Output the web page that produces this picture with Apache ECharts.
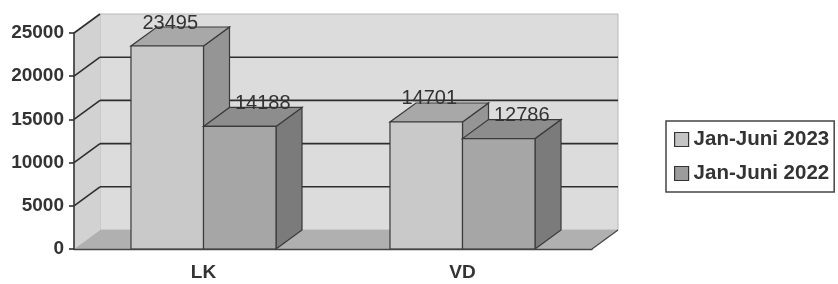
<!DOCTYPE html>
<html>
<head>
<meta charset="utf-8">
<script src="https://cdn.jsdelivr.net/npm/echarts@6/dist/echarts.min.js"></script>
<style>
  html, body { margin: 0; padding: 0; background: #fff; }
  #chart { width: 838px; height: 284px; }
</style>
</head>
<body>
<div id="chart"></div>
<script>
// data
const categories = ['LK', 'VD'];
const seriesNames = ['Jan-Juni 2023', 'Jan-Juni 2022'];
const values2023 = [23495, 14701];
const values2022 = [14188, 12786];
const yTicks = [0, 5000, 10000, 15000, 20000, 25000];

// 3d look
const DX = 26, DY = -19;
const BAR_FRAC = 0.28;
const EDGE = '#3a3a3a';
const FONT = '"Liberation Sans", Arial, sans-serif';

const chart = echarts.init(document.getElementById('chart'));

function poly(points, fill, stroke, lw) {
  return {
    type: 'polygon',
    shape: { points: points },
    style: { fill: fill, stroke: stroke || EDGE, lineWidth: lw == null ? 1.2 : lw }
  };
}

// walls + floor + gridlines, from the y axis scale
function renderWalls(params, api) {
  const cs = params.coordSys;
  const x0 = cs.x, x1 = cs.x + cs.width;
  const yb = cs.y + cs.height, yt = cs.y;
  const kids = [
    poly([[x0 + DX, yt + DY], [x1 + DX, yt + DY], [x1 + DX, yb + DY], [x0 + DX, yb + DY]], '#dcdcdc', '#b8b8b8', 1),
    poly([[x0, yb], [x0, yt], [x0 + DX, yt + DY], [x0 + DX, yb + DY]], '#d2d2d2', 'none', 0),
    poly([[x0, yb], [x1, yb], [x1 + DX, yb + DY], [x0 + DX, yb + DY]], '#b0b0b0', 'none', 0),
    { type: 'line', shape: { x1: x1, y1: yb, x2: x1 + DX, y2: yb + DY }, style: { stroke: '#444', lineWidth: 1.2 } }
  ];
  const max = yTicks[yTicks.length - 1];
  yTicks.forEach(function (v) {
    if (v === 0) return;
    const y = api.coord([0, v])[1];
    kids.push({ type: 'line', shape: { x1: x0, y1: y, x2: x0 + DX, y2: y + DY }, style: { stroke: '#2e2e2e', lineWidth: 1.6 } });
    if (v < max) {
      kids.push({ type: 'line', shape: { x1: x0 + DX, y1: y + DY, x2: x1 + DX, y2: y + DY }, style: { stroke: '#2e2e2e', lineWidth: 1.6 } });
    }
  });
  return { type: 'group', children: kids };
}

function makeBar(side, colors, labelDx) {
  return function (params, api) {
    const cat = api.value(0), v = api.value(1);
    const top = api.coord([cat, v]);
    const base = api.coord([cat, 0]);
    const bw = api.size([1, 0])[0] * BAR_FRAC;
    const xl = side < 0 ? top[0] - bw : top[0];
    const xr = xl + bw;
    const yt = top[1], yb = base[1];
    return {
      type: 'group',
      children: [
        poly([[xr, yb], [xr + DX, yb + DY], [xr + DX, yt + DY], [xr, yt]], colors[2]),
        poly([[xl, yt], [xr, yt], [xr + DX, yt + DY], [xl + DX, yt + DY]], colors[1]),
        poly([[xl, yb], [xr, yb], [xr, yt], [xl, yt]], colors[0]),
        {
          type: 'text',
          style: {
            x: (xl + xr) / 2 + labelDx, y: yt - 23,
            text: String(v), align: 'center', verticalAlign: 'middle',
            fill: '#333', font: '20px ' + FONT
          }
        }
      ]
    };
  };
}

let option = {
  backgroundColor: '#fff',
  animation: false,
  grid: { left: 74, right: 246, top: 33, bottom: 35 },
  legend: {
    orient: 'vertical',
    left: 666, top: 121,
    padding: [8, 5, 8, 8],
    backgroundColor: '#fff',
    borderColor: '#444',
    borderWidth: 1.5,
    borderRadius: 0,
    itemWidth: 14, itemHeight: 14, itemGap: 13,
    icon: 'rect',
    textStyle: { fontSize: 20.5, fontWeight: 'bold', color: '#333', fontFamily: FONT, lineHeight: 20 },
    data: [
      { name: seriesNames[0], itemStyle: { color: '#c4c4c4', borderColor: '#333', borderWidth: 1.2 } },
      { name: seriesNames[1], itemStyle: { color: '#9c9c9c', borderColor: '#333', borderWidth: 1.2 } }
    ]
  },
  xAxis: {
    type: 'category',
    data: categories,
    z: 5,
    axisLine: { lineStyle: { color: '#444', width: 1.4 } },
    axisTick: { length: 5, lineStyle: { color: '#444', width: 1.4 } },
    axisLabel: { margin: 14, fontSize: 19, fontWeight: 'bold', color: '#333', fontFamily: FONT }
  },
  yAxis: {
    type: 'value',
    min: 0, max: 25000, interval: 5000,
    z: 5,
    axisLine: { show: true, lineStyle: { color: '#333', width: 1.6 } },
    axisTick: { show: true, length: 5, lineStyle: { color: '#333', width: 1.6 } },
    axisLabel: {
      margin: 10, fontSize: 19, fontWeight: 'bold', color: '#333', fontFamily: FONT,
      formatter: function (v) { return String(v); }
    },
    splitLine: { show: false }
  },
  series: [
    {
      name: 'walls', type: 'custom', z: 1, silent: true,
      renderItem: renderWalls,
      data: [[0, 0]]
    },
    {
      name: seriesNames[0], type: 'custom', z: 2,
      itemStyle: { color: '#c4c4c4' },
      renderItem: makeBar(-1, ['#c9c9c9', '#a8a8a8', '#959595'], 3),
      encode: { x: 0, y: 1 },
      data: values2023.map(function (v, i) { return [i, v]; })
    },
    {
      name: seriesNames[1], type: 'custom', z: 3,
      itemStyle: { color: '#9c9c9c' },
      renderItem: makeBar(1, ['#a6a6a6', '#8d8d8d', '#7b7b7b'], 23),
      encode: { x: 0, y: 1 },
      data: values2022.map(function (v, i) { return [i, v]; })
    }
  ]
};

chart.setOption(option);
</script>
</body>
</html>
